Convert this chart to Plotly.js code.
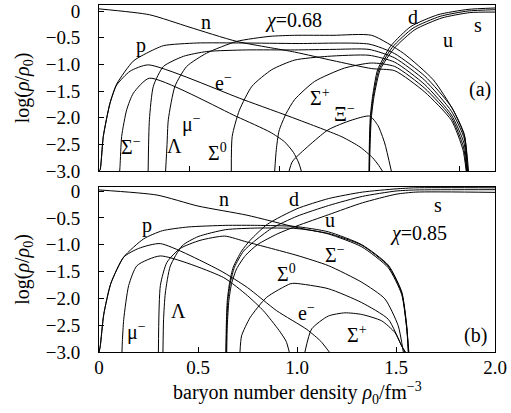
<!DOCTYPE html>
<html><head><meta charset="utf-8">
<script src="https://cdn.plot.ly/plotly-3.0.1.min.js"></script>
<style>body{margin:0;padding:0;background:#fff}#chart{width:511px;height:413px}</style>
</head><body><div id="chart"></div>
<script>
// ---------- panel (a) chi = 0.68 ----------
const a_n_x  = [0, 0.28, 0.5, 0.765, 1.087, 1.3, 1.515, 1.643, 1.81, 1.958, 2.022, 2.04];
const a_n_y  = [0.04, -0.07, -0.30, -0.57, -0.77, -0.93, -1.08, -1.12, -1.52, -2.05, -2.6, -3.0];
const a_p_x  = [0, 0.006, 0.024, 0.061, 0.098, 0.19, 0.265, 0.358, 0.543, 0.8, 1.1, 1.5, 1.643, 1.81, 1.958, 2.03, 2.048];
const a_p_y  = [-3.0, -2.98, -2.35, -1.73, -1.37, -0.94, -0.79, -0.65, -0.60, -0.60, -0.61, -0.62, -0.80, -1.22, -1.80, -2.32, -3.0];
const a_e_x  = [0, 0.006, 0.024, 0.061, 0.098, 0.172, 0.274, 0.8, 1.1, 1.35, 1.45, 1.52, 1.555, 1.574];
const a_e_y  = [-3.0, -2.98, -2.35, -1.73, -1.39, -1.13, -1.01, -1.66, -2.03, -2.36, -2.55, -2.75, -2.9, -3.0];
const a_mu_x = [0.115, 0.117, 0.126, 0.154, 0.191, 0.28, 0.765, 0.95, 1.03, 1.08, 1.11, 1.124];
const a_mu_y = [-3.0, -2.9, -2.35, -1.85, -1.54, -1.26, -1.98, -2.27, -2.45, -2.65, -2.85, -3.0];
const a_sm_x = [0.273, 0.28, 0.302, 0.358, 0.469, 0.598, 0.82, 1.087, 1.3, 1.5, 1.643, 1.81, 1.958, 2.03, 2.046];
const a_sm_y = [-3.0, -2.04, -1.41, -1.04, -0.85, -0.76, -0.73, -0.73, -0.72, -0.72, -0.88, -1.30, -1.88, -2.40, -3.0];
const a_L_x  = [0.37, 0.378, 0.385, 0.422, 0.487, 0.598, 0.765, 0.95, 1.087, 1.3, 1.515, 1.69, 1.857, 1.968, 2.03, 2.053];
const a_L_y  = [-3.0, -2.5, -2.04, -1.41, -1.04, -0.79, -0.57, -0.475, -0.456, -0.456, -0.456, -0.79, -1.29, -1.86, -2.34, -3.0];
const a_s0_x = [0.735, 0.74, 0.78, 0.85, 0.96, 1.087, 1.27, 1.5, 1.643, 1.81, 1.958, 2.028, 2.044];
const a_s0_y = [-3.0, -2.35, -1.86, -1.41, -1.10, -0.92, -0.85, -0.83, -0.96, -1.38, -1.95, -2.48, -3.0];
const a_sp_x = [0.976, 0.985, 1.0, 1.04, 1.087, 1.198, 1.364, 1.513, 1.643, 1.81, 1.958, 2.025, 2.042];
const a_sp_y = [-3.0, -2.6, -2.25, -1.92, -1.66, -1.32, -1.07, -0.975, -1.04, -1.45, -2.0, -2.55, -3.0];
const a_xi_x = [1.056, 1.07, 1.087, 1.272, 1.40, 1.504, 1.55, 1.587, 1.624];
const a_xi_y = [-3.0, -2.85, -2.77, -2.23, -2.05, -1.97, -2.15, -2.475, -3.0];
const a_d_x  = [1.500, 1.502, 1.507, 1.52, 1.548, 1.62, 1.733, 1.883, 2.05, 2.2];
const a_d_y  = [-3.0, -2.5, -2.0, -1.6, -1.10, -0.66, -0.29, -0.07, 0.03, 0.056];
const a_u_x  = [1.502, 1.504, 1.51, 1.524, 1.555, 1.63, 1.745, 1.895, 2.05, 2.2];
const a_u_y  = [-3.0, -2.5, -2.0, -1.6, -1.10, -0.68, -0.32, -0.10, 0.0, 0.024];
const a_s_x  = [1.503, 1.506, 1.513, 1.528, 1.562, 1.64, 1.755, 1.905, 2.06, 2.2];
const a_s_y  = [-3.0, -2.5, -2.0, -1.6, -1.10, -0.70, -0.35, -0.13, -0.03, -0.02];

// ---------- panel (b) chi = 0.85 ----------
const b_n_x  = [0, 0.293, 0.5, 0.747, 1.0, 1.158, 1.327, 1.461, 1.529, 1.554, 1.562];
const b_n_y  = [0.02, -0.075, -0.28, -0.45, -0.68, -0.80, -1.04, -1.43, -1.93, -2.55, -3.0];
const b_p_x  = [0, 0.006, 0.024, 0.06, 0.125, 0.226, 0.32, 0.45, 0.64, 0.8, 0.99, 1.158, 1.327, 1.461, 1.529, 1.554, 1.563];
const b_p_y  = [-3.0, -2.9, -2.3, -1.72, -1.23, -0.89, -0.74, -0.67, -0.64, -0.64, -0.66, -0.76, -1.0, -1.38, -1.88, -2.5, -3.0];
const b_e_x  = [0, 0.006, 0.024, 0.06, 0.125, 0.2, 0.31, 0.611, 0.75, 0.897, 1.05, 1.12, 1.163];
const b_e_y  = [-3.0, -2.9, -2.3, -1.72, -1.23, -1.07, -0.98, -1.48, -1.80, -2.23, -2.58, -2.8, -3.0];
const b_mu_x = [0.116, 0.118, 0.125, 0.15, 0.192, 0.31, 0.628, 0.75, 0.83, 0.91, 0.945, 0.961];
const b_mu_y = [-3.0, -2.8, -2.39, -1.76, -1.39, -1.21, -1.61, -1.95, -2.23, -2.6, -2.8, -3.0];
const b_sm_x = [0.30, 0.31, 0.343, 0.41, 0.51, 0.635, 0.747, 1.0, 1.158, 1.327, 1.444, 1.511, 1.537];
const b_sm_y = [-3.0, -1.76, -1.33, -1.07, -0.92, -0.84, -0.95, -1.20, -1.39, -1.70, -2.01, -2.51, -3.0];
const b_L_x  = [0.323, 0.326, 0.335, 0.36, 0.42, 0.5, 0.64, 0.8, 1.0, 1.158, 1.327, 1.461, 1.529, 1.554, 1.565];
const b_L_y  = [-3.0, -2.4, -1.9, -1.40, -1.02, -0.85, -0.72, -0.69, -0.70, -0.79, -1.01, -1.40, -1.90, -2.55, -3.0];
const b_s0_x = [0.712, 0.72, 0.763, 0.847, 0.965, 0.99, 1.158, 1.327, 1.461, 1.529, 1.548];
const b_s0_y = [-3.0, -2.7, -2.36, -1.98, -1.73, -1.72, -1.82, -2.08, -2.39, -2.89, -3.0];
const b_sp_x = [1.04, 1.074, 1.158, 1.242, 1.327, 1.428, 1.495, 1.529, 1.545];
const b_sp_y = [-3.0, -2.57, -2.33, -2.27, -2.30, -2.42, -2.64, -2.89, -3.0];
const b_d_x  = [0.641, 0.643, 0.648, 0.66, 0.678, 0.72, 0.763, 0.85, 1.0, 1.16, 1.33, 1.5, 1.6, 2.0];
const b_d_y  = [-3.0, -2.5, -2.04, -1.7, -1.42, -1.12, -0.92, -0.62, -0.33, -0.14, -0.02, 0.04, 0.06, 0.06];
const b_u_x  = [0.642, 0.645, 0.651, 0.664, 0.684, 0.73, 0.78, 0.87, 1.0, 1.16, 1.33, 1.5, 1.6, 2.0];
const b_u_y  = [-3.0, -2.5, -2.04, -1.7, -1.42, -1.12, -0.95, -0.70, -0.47, -0.27, -0.10, 0.0, 0.02, 0.025];
const b_s_x  = [0.645, 0.648, 0.656, 0.67, 0.695, 0.74, 0.8, 0.9, 1.0, 1.16, 1.33, 1.5, 1.6, 2.0];
const b_s_y  = [-3.0, -2.5, -2.04, -1.72, -1.45, -1.2, -1.0, -0.80, -0.65, -0.44, -0.22, -0.06, -0.02, -0.025];

// tick labels
const yTickVals = [0, -0.5, -1.0, -1.5, -2.0, -2.5, -3.0];
const yTickText = ["0", "\u22120.5", "\u22121.0", "\u22121.5", "\u22122.0", "\u22122.5", "\u22123.0"];
const xTickValsA = [0.5, 1.0, 1.5, 2.0];
const xTickValsB = [0, 0.5, 1.0, 1.5, 2.0];
const xTickTextB = ["0", "0.5", "1.0", "1.5", "2.0"];

// curve labels: [text, x, y]
const a_labels = [
  ["n", 0.597, -0.20], ["<i>χ</i>=0.68", 1.078, -0.17], ["d", 1.744, -0.107], ["s", 2.106, -0.26],
  ["u", 1.939, -0.54], ["(a)", 2.115, -1.48], ["p", 0.236, -0.64], ["e<sup>−</sup>", 0.689, -1.33],
  ["Σ<sup>+</sup>", 1.226, -1.61], ["Ξ<sup>−</sup>", 1.365, -1.92], ["μ<sup>−</sup>", 0.513, -2.11],
  ["Σ<sup>−</sup>", 0.18, -2.54], ["Λ", 0.42, -2.54], ["Σ<sup>0</sup>", 0.661, -2.64]
];
const b_labels = [
  ["n", 0.63, -0.14], ["d", 0.983, -0.14], ["s", 1.714, -0.26], ["u", 1.167, -0.54],
  ["<i>χ</i>=0.85", 1.613, -0.79], ["p", 0.242, -0.64], ["Σ<sup>−</sup>", 1.19, -1.18],
  ["Σ<sup>0</sup>", 0.948, -1.53], ["e<sup>−</sup>", 1.049, -2.26], ["Σ<sup>+</sup>", 1.301, -2.66],
  ["μ<sup>−</sup>", 0.19, -2.61], ["Λ", 0.40, -2.23], ["(b)", 1.9, -2.7]
];

const aCurves = [[a_n_x,a_n_y],[a_p_x,a_p_y],[a_e_x,a_e_y],[a_mu_x,a_mu_y],[a_sm_x,a_sm_y],[a_L_x,a_L_y],
  [a_s0_x,a_s0_y],[a_sp_x,a_sp_y],[a_xi_x,a_xi_y],[a_d_x,a_d_y],[a_u_x,a_u_y],[a_s_x,a_s_y]];
const bCurves = [[b_n_x,b_n_y],[b_p_x,b_p_y],[b_e_x,b_e_y],[b_mu_x,b_mu_y],[b_sm_x,b_sm_y],[b_L_x,b_L_y],
  [b_s0_x,b_s0_y],[b_sp_x,b_sp_y],[b_d_x,b_d_y],[b_u_x,b_u_y],[b_s_x,b_s_y]];

const FONT = "serif";
const traces = [];
aCurves.forEach(c => traces.push({x:c[0], y:c[1], xaxis:'x', yaxis:'y', mode:'lines',
  line:{color:'#000', width:1, shape:'spline', smoothing:0.6}, hoverinfo:'skip'}));
bCurves.forEach(c => traces.push({x:c[0], y:c[1], xaxis:'x2', yaxis:'y2', mode:'lines',
  line:{color:'#000', width:1, shape:'spline', smoothing:0.6}, hoverinfo:'skip'}));

const ann = [];
a_labels.forEach(l => ann.push({text:l[0], x:l[1], y:l[2], xref:'x', yref:'y', showarrow:false,
  font:{family:FONT, size:20, color:'#000'}}));
b_labels.forEach(l => ann.push({text:l[0], x:l[1], y:l[2], xref:'x2', yref:'y2', showarrow:false,
  font:{family:FONT, size:20, color:'#000'}}));
ann.push({text:'baryon number density <i>ρ</i><sub>0</sub>/fm<sup>−3</sup>', xref:'paper', yref:'paper',
  x:0.5, y:-0.118, xanchor:'center', yanchor:'middle', showarrow:false, font:{family:FONT, size:20, color:'#000'}});

const yax = (dom, rng) => ({domain:dom, range:rng, tickvals:yTickVals, ticktext:yTickText,
  ticks:'inside', ticklen:5, tickcolor:'#000', showline:true, linecolor:'#000', linewidth:1, mirror:true,
  showgrid:false, zeroline:false, ticklabelstandoff:14, tickfont:{family:FONT, size:19, color:'#000'},
  title:{text:'log(<i>ρ</i>/<i>ρ</i><sub>0</sub>)', font:{family:FONT, size:20, color:'#000'}, standoff:10}});

const layout = {
  width:511, height:413, margin:{l:99, r:16, t:5, b:61}, showlegend:false,
  paper_bgcolor:'#fff', plot_bgcolor:'#fff', font:{family:FONT, color:'#000'},
  xaxis:{anchor:'y', range:[0,2.2], tickvals:xTickValsA, showticklabels:false, ticks:'inside', ticklen:5,
    tickcolor:'#000', showline:true, linecolor:'#000', linewidth:1, mirror:true, showgrid:false, zeroline:false},
  yaxis: yax([0.5216,1], [-3.0, 0.1125]),
  xaxis2:{anchor:'y2', range:[0,2.0], tickvals:xTickValsB, ticktext:xTickTextB, ticks:'inside', ticklen:5,
    tickcolor:'#000', showline:true, linecolor:'#000', linewidth:1, mirror:true, showgrid:false, zeroline:false,
    ticklabelstandoff:-2, tickfont:{family:FONT, size:19, color:'#000'}},
  yaxis2: yax([0,0.4755], [-3.0, 0.075]),
  annotations: ann
};
Plotly.newPlot('chart', traces, layout, {staticPlot:true, displayModeBar:false});
</script></body></html>
